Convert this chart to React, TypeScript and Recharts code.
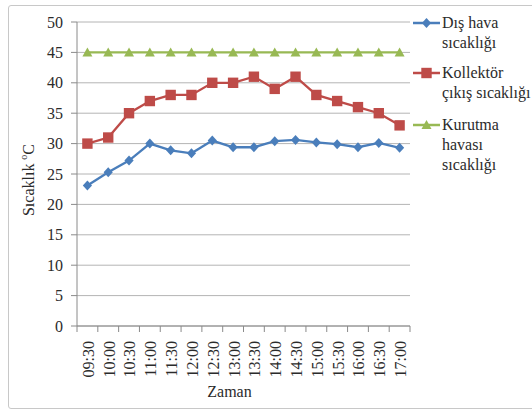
import React from "react"
import { CartesianGrid, Line, LineChart, XAxis, YAxis } from "recharts"

// Times of measurement
const times = [
  "09:30", "10:00", "10:30", "11:00", "11:30", "12:00", "12:30", "13:00",
  "13:30", "14:00", "14:30", "15:00", "15:30", "16:00", "16:30", "17:00",
]

// Temperatures in °C
const outsideAir = [23.1, 25.3, 27.2, 30.0, 28.9, 28.4, 30.5, 29.4, 29.4, 30.4, 30.6, 30.2, 29.9, 29.4, 30.1, 29.3]
const collectorOut = [30, 31, 35, 37, 38, 38, 40, 40, 41, 39, 41, 38, 37, 36, 35, 33]
const dryingAir = [45, 45, 45, 45, 45, 45, 45, 45, 45, 45, 45, 45, 45, 45, 45, 45]

const yTicks = [0, 5, 10, 15, 20, 25, 30, 35, 40, 45, 50]

const data = times.map((time, i) => ({
  time,
  outside: outsideAir[i],
  collector: collectorOut[i],
  drying: dryingAir[i],
}))

const FONT = "Liberation Serif, DejaVu Serif, serif"
const TEXT = "#2b2b2b"
const AXIS = "#8a8a8a"
const BLUE = "#4a7ebb"
const RED = "#be4b48"
const GREEN = "#98b954"

const PLOT_LEFT = 77
const PLOT_RIGHT = 410
const BAND = (PLOT_RIGHT - PLOT_LEFT) / times.length

type Shape = "diamond" | "square" | "triangle"

function Marker({ cx, cy, shape, color }: { cx: number; cy: number; shape: Shape; color: string }) {
  if (shape === "diamond") {
    return <polygon points={`${cx},${cy - 5} ${cx + 4.6},${cy} ${cx},${cy + 5} ${cx - 4.6},${cy}`} fill={color} />
  }
  if (shape === "square") {
    return <rect x={cx - 5.2} y={cy - 5.2} width={10.4} height={10.4} fill={color} />
  }
  return <polygon points={`${cx},${cy - 5} ${cx + 5},${cy + 4} ${cx - 5},${cy + 4}`} fill={color} />
}

const dotOf = (shape: Shape, color: string) => (props: any) => (
  <Marker key={`${shape}-${props.index}`} cx={props.cx} cy={props.cy} shape={shape} color={color} />
)

// rotated time labels plus tick marks on the category boundaries
function TimeTick(props: any) {
  const { x, y, payload, index } = props
  const axisY = y - 6
  const left = x - BAND / 2
  return (
    <g>
      <line x1={left} y1={axisY} x2={left} y2={axisY + 6} stroke={AXIS} />
      {index === times.length - 1 && (
        <line x1={x + BAND / 2} y1={axisY} x2={x + BAND / 2} y2={axisY + 6} stroke={AXIS} />
      )}
      <text
        x={x + 1}
        y={y + 9}
        dy="0.34em"
        transform={`rotate(-90, ${x + 1}, ${y + 9})`}
        textAnchor="end"
        fill={TEXT}
        fontSize={16}
        fontFamily={FONT}
      >
        {payload.value}
      </text>
    </g>
  )
}

const legendItems: { lines: string[]; shape: Shape; color: string; gap: number }[] = [
  { lines: ["Dış hava", "sıcaklığı"], shape: "diamond", color: BLUE, gap: 10 },
  { lines: ["Kollektör", "çıkış sıcaklığı"], shape: "square", color: RED, gap: 12 },
  { lines: ["Kurutma", "havası", "sıcaklığı"], shape: "triangle", color: GREEN, gap: 0 },
]

function ChartLegend() {
  return (
    <div style={{ position: "absolute", left: 413, top: 13, fontFamily: FONT, fontSize: 16, color: TEXT }}>
      {legendItems.map((item) => (
        <div key={item.lines[0]} style={{ display: "flex", marginBottom: item.gap }}>
          <svg width={28} height={20} style={{ flex: "none" }}>
            <line x1={0} y1={10} x2={27} y2={10} stroke={item.color} strokeWidth={2.5} />
            <Marker cx={13.5} cy={10} shape={item.shape} color={item.color} />
          </svg>
          <div style={{ lineHeight: "20px", whiteSpace: "nowrap", marginLeft: 1 }}>
            {item.lines.map((l) => (
              <div key={l}>{l}</div>
            ))}
          </div>
        </div>
      ))}
    </div>
  )
}

export default function App() {
  return (
    <div style={{ position: "absolute", left: 0, top: 0, width: 532, height: 410, overflow: "hidden", background: "#fff" }}>
      <div
        style={{
          position: "absolute",
          left: 8,
          top: 5,
          width: 540,
          height: 402,
          border: "1px solid #c8c8c8",
          borderRadius: 3,
        }}
      />
      <LineChart
        width={532}
        height={410}
        data={data}
        margin={{ top: 22, right: 532 - PLOT_RIGHT, bottom: 0, left: 0 }}
        style={{ position: "absolute", left: 0, top: 0 }}
      >
        <CartesianGrid vertical={false} stroke="#b4b4b4" />
        <XAxis
          dataKey="time"
          interval={0}
          height={84}
          padding={{ left: BAND / 2, right: BAND / 2 }}
          tickSize={6}
          tickMargin={0}
          tickLine={false}
          axisLine={{ stroke: AXIS }}
          tick={<TimeTick />}
          label={{
            value: "Zaman",
            position: "insideBottom",
            offset: 13,
            dx: -14,
            fill: TEXT,
            fontSize: 16,
            fontFamily: FONT,
          }}
        />
        <YAxis
          width={PLOT_LEFT}
          domain={[0, 50]}
          ticks={yTicks}
          interval={0}
          tickSize={6}
          tickMargin={8}
          tickLine={{ stroke: AXIS }}
          axisLine={{ stroke: AXIS }}
          tick={{ fill: TEXT, fontSize: 16, fontFamily: FONT }}
          label={{
            content: () => (
              <text
                x={34}
                y={180}
                transform="rotate(-90, 34, 180)"
                textAnchor="middle"
                fill={TEXT}
                fontSize={16}
                fontFamily={FONT}
              >
                Sıcaklık <tspan fontSize={10} dy={-7}>o</tspan>
                <tspan dy={7}>C</tspan>
              </text>
            ),
          }}
        />
        <Line
          dataKey="outside"
          name="Dış hava sıcaklığı"
          stroke={BLUE}
          strokeWidth={2.3}
          dot={dotOf("diamond", BLUE)}
          isAnimationActive={false}
        />
        <Line
          dataKey="collector"
          name="Kollektör çıkış sıcaklığı"
          stroke={RED}
          strokeWidth={2.3}
          dot={dotOf("square", RED)}
          isAnimationActive={false}
        />
        <Line
          dataKey="drying"
          name="Kurutma havası sıcaklığı"
          stroke={GREEN}
          strokeWidth={2.3}
          dot={dotOf("triangle", GREEN)}
          isAnimationActive={false}
        />
      </LineChart>
      <ChartLegend />
    </div>
  )
}
